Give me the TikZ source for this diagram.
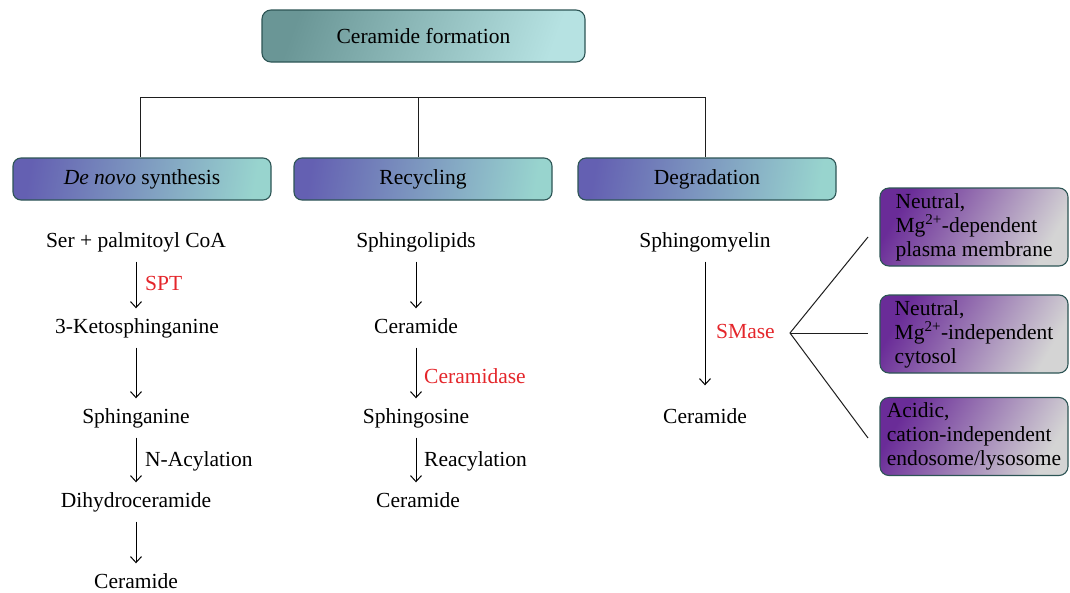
\documentclass[tikz,border=0pt]{standalone}
\usepackage{fontspec}
\setmainfont{Liberation Serif}
\usetikzlibrary{arrows.meta}
\definecolor{tealdark}{RGB}{106,150,150}
\definecolor{teallight}{RGB}{182,226,226}
\definecolor{tealborder}{RGB}{45,85,85}
\definecolor{rowleft}{RGB}{100,96,178}
\definecolor{rowright}{RGB}{152,212,206}
\definecolor{purp}{RGB}{106,44,152}
\definecolor{grayl}{RGB}{212,212,212}
\definecolor{enzred}{RGB}{228,38,43}
\definecolor{linegray}{RGB}{30,30,30}
\begin{document}
\begin{tikzpicture}[x=1pt,y=-1pt,
  every node/.style={font=\fontsize{21.5}{24}\selectfont},
  flow/.style={inner sep=0pt, text height=14pt, text depth=5pt},
  enz/.style={flow, anchor=west, text=enzred},
  lab/.style={flow, anchor=west},
  arr/.style={-{Straight Barb[length=6pt,width=11pt]}, line width=1pt, shorten <=9pt, shorten >=11pt},
  conn/.style={line width=1pt, draw=linegray},
  topbox/.style={draw=tealborder, line width=1.1pt, rounded corners=9pt, top color=tealdark, bottom color=teallight, shading angle=70, minimum width=323pt, minimum height=52pt, inner sep=0pt},
  rowbox/.style={draw=tealborder, line width=1.1pt, rounded corners=8pt, top color=rowleft, bottom color=rowright, shading angle=80, minimum width=258pt, minimum height=42pt, inner sep=0pt},
  sidebox/.style={draw=tealborder, line width=1.1pt, rounded corners=9pt, top color=purp, bottom color=grayl, shading angle=60, minimum width=188pt, minimum height=78pt, align=left, inner xsep=6pt, inner ysep=2pt, font=\fontsize{21.5}{24}\selectfont}
]
\useasboundingbox (0,0) rectangle (1070,592);

% top
\node[topbox] (top) at (423.5,36) {Ceramide formation};

% row boxes
\node[rowbox] (dn)  at (142,179) {\textit{De novo} synthesis};
\node[rowbox] (rec) at (423,179) {Recycling};
\node[rowbox] (deg) at (707,179) {Degradation};

% tree
\coordinate (t1) at (140,97);
\coordinate (t2) at (418,97);
\coordinate (t3) at (705,97);
\draw[conn] (t1 |- dn.north) -- (t1) -- (t3) -- (t3 |- deg.north);
\draw[conn] (t2) -- (t2 |- rec.north);

% column 1
\node[flow] (c1a) at (136,243) {Ser + palmitoyl CoA};
\node[flow] (c1b) at (137,329) {3-Ketosphinganine};
\node[flow] (c1c) at (136,419) {Sphinganine};
\node[flow] (c1d) at (136,503) {Dihydroceramide};
\node[flow] (c1e) at (136,584) {Ceramide};
\draw[arr] (c1a) -- (c1a |- c1b.north);
\draw[arr] (c1b.south -| c1a) -- (c1c);
\draw[arr] (c1c) -- (c1d);
\draw[arr] (c1d) -- (c1e);
\node[enz] (spt) at (145,286) {SPT};
\node[lab] (nacyl) at (145,462) {N-Acylation};

% column 2
\node[flow] (c2a) at (416,243) {Sphingolipids};
\node[flow] (c2b) at (416,329) {Ceramide};
\node[flow] (c2c) at (416,419) {Sphingosine};
\node[flow] (c2d) at (418,503) {Ceramide};
\draw[arr] (c2a) -- (c2b);
\draw[arr] (c2b) -- (c2c);
\draw[arr] (c2c) -- (c2c |- c2d.north);
\node[enz] (cdase) at (424,379) {Ceramidase};
\node[lab] (reacyl) at (424,462) {Reacylation};

% column 3
\node[flow] (c3a) at (705,243) {Sphingomyelin};
\node[flow] (c3b) at (705,419) {Ceramide};
\draw[arr, shorten >=24pt] (c3a) -- (c3b);
\node[enz] (smase) at (716,334) {SMase};

% side boxes
\node[sidebox] (b1) at (974,227) {Neutral,\\Mg\textsuperscript{2+}-dependent\\plasma membrane};
\node[sidebox] (b2) at (974,334) {Neutral,\\Mg\textsuperscript{2+}-independent\\cytosol};
\node[sidebox] (b3) at (974,436.5) {Acidic,\\cation-independent\\endosome/lysosome};

\coordinate (fan) at (790,333);
\coordinate (e1) at (868,237);
\coordinate (e2) at (868,333);
\coordinate (e3) at (868,438);
\draw[conn] (e1) -- (fan) -- (e3);
\draw[conn] (fan) -- (e2);
\end{tikzpicture}
\end{document}
